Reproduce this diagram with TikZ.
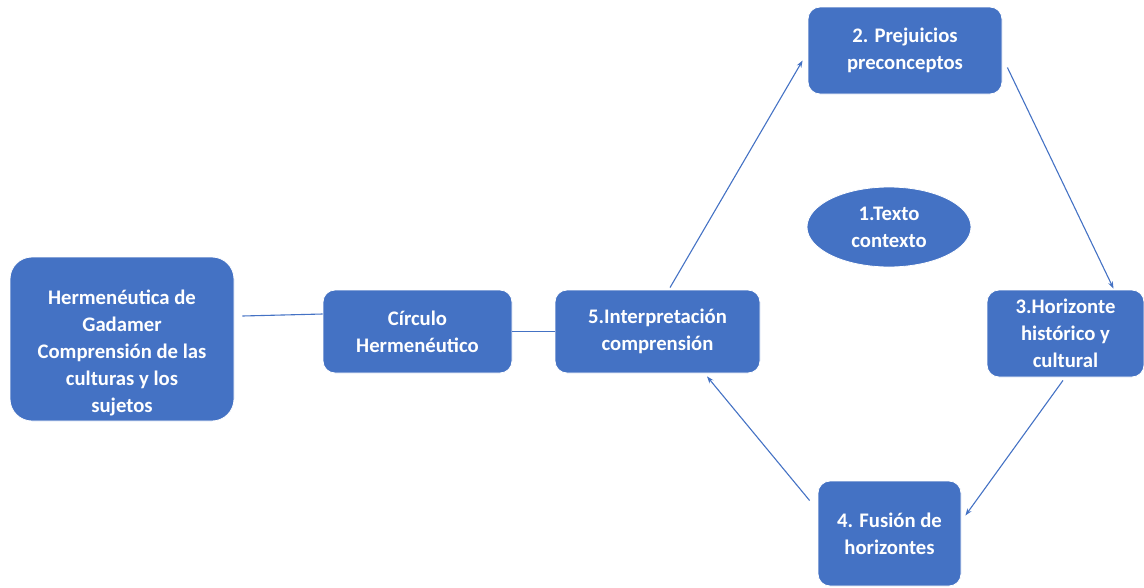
\documentclass[tikz,border=0pt]{standalone}
\usepackage{fontspec}
\setmainfont{Carlito}
\usetikzlibrary{arrows.meta,calc,shapes.geometric}
\definecolor{bluebox}{HTML}{4472C4}
\tikzset{
  box/.style={draw=white, line width=0.8pt, fill=bluebox, rounded corners=#1, inner sep=0pt},
  box/.default=12pt,
  txt/.style={text=white, font=\bfseries\fontsize{20.7}{27}\selectfont, align=center, inner sep=0pt},
  link/.style={draw=bluebox, line width=1.1pt},
  arr/.style={link, -{Stealth[length=7pt,width=5pt]}}
}
\begin{document}
\begin{tikzpicture}[x=1pt,y=-1pt]
\useasboundingbox (0,0) rectangle (1144,587);
% boxes
\node[box=22pt, minimum width=224pt, minimum height=164pt] (h) at (122,339) {};
\node[txt] (ht) at (122,353) {Hermenéutica de\\Gadamer\\Comprensión de las\\culturas y los\\sujetos};
\node[box, minimum width=189pt, minimum height=83pt, txt] (c) at (417.5,331.5) {Círculo\\Hermenéutico};
\node[box, minimum width=205pt, minimum height=83pt, txt] (i) at (657.5,331.5) {5.Interpretación\\comprensión};
\node[box, minimum width=194pt, minimum height=87pt, txt] (p) at (905,50.5) {2. Prejuicios\\preconceptos};
\node[ellipse, fill=bluebox, draw=white, line width=0.8pt, minimum width=164pt, minimum height=80pt, txt] (t) at (889,227) {1.Texto\\contexto};
\node[box, minimum width=157pt, minimum height=87pt, txt] (ho) at (1065.5,333.5) {3.Horizonte\\histórico y\\cultural};
\node[box, minimum width=143pt, minimum height=105pt, txt] (f) at (889.5,533.5) {4. Fusión de\\horizontes};
% connectors
\draw[link] ($(h.east)+(8,-23)$) -- ($(c.west)+(0,-17.5)$);
\draw[link] (c.east) -- (i.west);
\draw[arr] ($(i.north)+(12.5,-2)$) -- ($(p.west)+(-5,10)$);
\draw[arr] ($(p.east)+(5,17)$) -- ($(ho.north)+(48,-1)$);
\draw[arr] ($(ho.south)+(-2.5,3)$) -- ($(f.east)+(4,-18)$);
\draw[arr] ($(f.west)+(-8,-33)$) -- ($(i.south)+(49.5,3)$);
\end{tikzpicture}
\end{document}
